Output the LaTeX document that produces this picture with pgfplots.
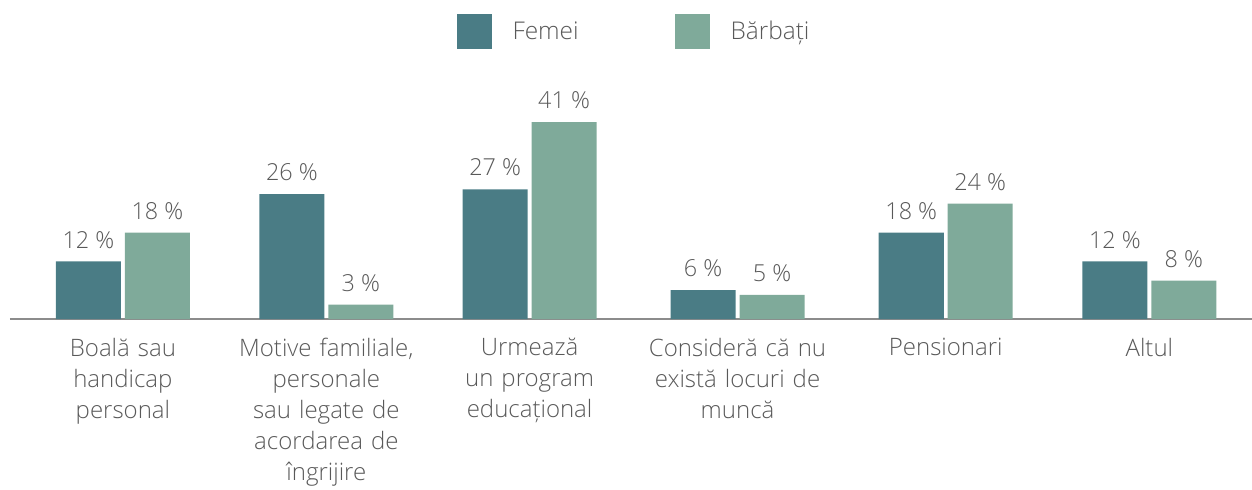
\documentclass[border=0pt]{standalone}
\usepackage{pgfplots}
\pgfplotsset{compat=1.18}
\usepackage{fontspec}
\setmainfont{Open Sans}[UprightFont=* Light]
\definecolor{fem}{HTML}{4A7C85}
\definecolor{barb}{HTML}{7FAA9A}
\definecolor{txt}{HTML}{595959}
\definecolor{axl}{HTML}{8C8C8C}
\begin{document}
\begin{tikzpicture}
\path[use as bounding box] (0,0) rectangle (626pt,244.5pt);
\begin{axis}[
  at={(5pt,85pt)}, anchor=south west, scale only axis,
  width=621pt, height=108.1pt,
  xmin=-0.55, xmax=5.5, ymin=0, ymax=45,
  ybar, bar width=0.317,
  axis x line=bottom, hide y axis,
  x axis line style={-, draw=axl, line width=0.8pt},
  xtick={0,0.991,1.981,2.994,4.008,5}, major tick length=0pt,
  /pgf/number format/assume math mode=true,
  xticklabels={{Boală sau\\handicap\\personal},
    {Motive familiale,\\personale\\sau legate de\\acordarea de\\îngrijire},
    {Urmează\\un program\\educațional},
    {Consideră că nu\\există locuri de\\muncă},
    {Pensionari},
    {Altul}},
  xticklabel style={align=center, text width=100pt, font=\fontsize{12}{15.5}\selectfont, text=txt, yshift=-5.9pt},
  nodes near coords={\pgfmathprintnumber{\pgfplotspointmeta}~\%},
  every node near coord/.append style={font=\fontsize{11.7}{13}\selectfont, text=txt, yshift=3pt},
  legend style={at={(0.5,1)}, anchor=center, xshift=2pt, yshift=35.5pt, draw=none, fill=none,
    legend columns=2, font=\fontsize{12.2}{13}\selectfont, text=txt,
    /tikz/every odd column/.append style={column sep=8.5pt},
    /tikz/every even column/.append style={column sep=46pt}},
  legend image code/.code={\fill[#1] (0pt,-8.75pt) rectangle (17.5pt,8.75pt);},
]
\addplot[fill=fem, draw=none, bar shift=-0.168] coordinates {(0,12) (0.991,26) (1.981,27) (2.994,6) (4.008,18) (5,12)};
\addplot[fill=barb, draw=none, bar shift=0.168] coordinates {(0,18) (0.991,3) (1.981,41) (2.994,5) (4.008,24) (5,8)};
\legend{Femei, Bărbați}
\end{axis}
\end{tikzpicture}
\end{document}
